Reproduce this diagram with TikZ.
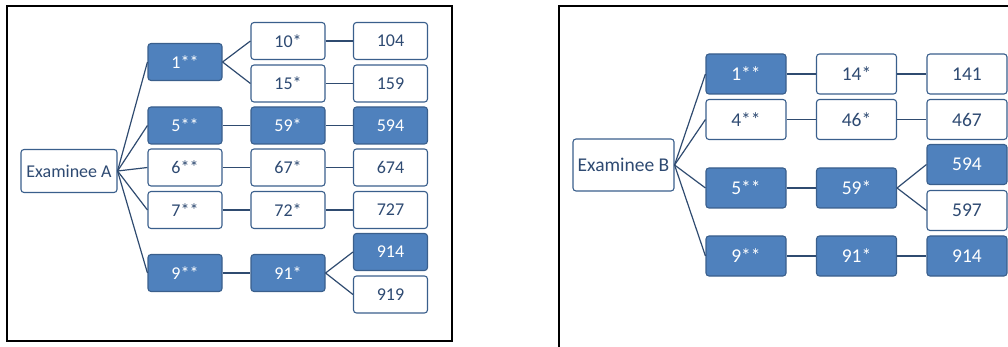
\documentclass[tikz,border=0pt]{standalone}
\usepackage{fontspec}
\setmainfont{Carlito}
\usepackage{xcolor}
\usetikzlibrary{positioning}
\definecolor{boxblue}{HTML}{4F81BD}
\definecolor{edgeblue}{HTML}{3A5F8C}
\definecolor{textblue}{HTML}{2E4A72}
\definecolor{lineblue}{HTML}{2F4B70}
\begin{document}
\begin{tikzpicture}[x=1pt, y=-1pt,
  every node/.style={font=\fontsize{18}{20}\selectfont},
  B/.style={rectangle, rounded corners=3pt, draw=edgeblue, line width=1.1pt,
    fill=white, text=textblue, minimum width=74pt, minimum height=37pt, inner sep=0pt},
  H/.style={B, fill=boxblue, text=white},
  BB/.style={B, minimum width=80pt, minimum height=40pt, font=\fontsize{19.5}{21}\selectfont},
  HB/.style={BB, fill=boxblue, text=white},
  L/.style={draw=lineblue, line width=1.2pt},
  frame/.style={draw=black, line width=1.6pt}]
  \useasboundingbox (0,0) rectangle (1008,347);
  % frames
  \draw[frame] (7,6) rectangle (452,341);
  \draw[frame] (559,347) -- (559,6) -- (1008,6);
  % --- Examinee A ---
  \node[B, minimum width=96pt, minimum height=43pt] (exa) at (69,171) {Examinee A};
  % first digit
  \node[H] (a1)  at (185,62)    {1**};
  \node[H] (a5)  at (185,125.5) {5**};
  \node[B] (a6)  at (185,167.5) {6**};
  \node[B] (a7)  at (185,210)   {7**};
  \node[H] (a9)  at (185,273)   {9**};
  % second digit
  \node[B] (a10) at (288,41)    {10*};
  \node[B] (a15) at (288,83.5)  {15*};
  \node[H] (a59) at (288,125.5) {59*};
  \node[B] (a67) at (288,167.5) {67*};
  \node[B] (a72) at (288,210)   {72*};
  \node[H] (a91) at (288,273)   {91*};
  % third digit
  \node[B] (a104) at (390.5,41)    {104};
  \node[B] (a159) at (390.5,83.5)  {159};
  \node[H] (a594) at (390.5,125.5) {594};
  \node[B] (a674) at (390.5,167.5) {674};
  \node[B] (a727) at (390.5,210)   {727};
  \node[H] (a914) at (390.5,252)   {914};
  \node[B] (a919) at (390.5,294.5) {919};
  % links A
  \draw[L] (exa.east) -- (a1.west);
  \draw[L] (exa.east) -- (a5.west);
  \draw[L] (exa.east) -- (a6.west);
  \draw[L] (exa.east) -- (a7.west);
  \draw[L] (exa.east) -- (a9.west);
  \draw[L] (a1.east) -- (a10.west);
  \draw[L] (a1.east) -- (a15.west);
  \draw[L] (a5) -- (a59);
  \draw[L] (a6) -- (a67);
  \draw[L] (a7) -- (a72);
  \draw[L] (a9) -- (a91);
  \draw[L] (a10) -- (a104);
  \draw[L] (a15) -- (a159);
  \draw[L] (a59) -- (a594);
  \draw[L] (a67) -- (a674);
  \draw[L] (a72) -- (a727);
  \draw[L] (a91.east) -- (a914.west);
  \draw[L] (a91.east) -- (a919.west);
  % --- Examinee B ---
  \node[BB, minimum width=101pt, minimum height=52pt] (exb) at (623.5,165) {Examinee B};
  % first digit
  \node[HB] (b1) at (746,74)    {1**};
  \node[BB] (b4) at (746,119.5) {4**};
  \node[HB] (b5) at (746,188)   {5**};
  \node[HB] (b9) at (746,256)   {9**};
  % second digit
  \node[BB] (b14) at (856.5,74)    {14*};
  \node[BB] (b46) at (856.5,119.5) {46*};
  \node[HB] (b59) at (856.5,188)   {59*};
  \node[HB] (b91) at (856.5,256)   {91*};
  % third digit
  \node[BB] (b141) at (967,74)    {141};
  \node[BB] (b467) at (967,119.5) {467};
  \node[HB] (b594) at (967,164.5) {594};
  \node[BB] (b597) at (967,210.5) {597};
  \node[HB] (b914) at (967,256)   {914};
  % links B
  \draw[L] (exb.east) -- (b1.west);
  \draw[L] (exb.east) -- (b4.west);
  \draw[L] (exb.east) -- (b5.west);
  \draw[L] (exb.east) -- (b9.west);
  \draw[L] (b1) -- (b14);
  \draw[L] (b4) -- (b46);
  \draw[L] (b5) -- (b59);
  \draw[L] (b9) -- (b91);
  \draw[L] (b14) -- (b141);
  \draw[L] (b46) -- (b467);
  \draw[L] (b59.east) -- (b594.west);
  \draw[L] (b59.east) -- (b597.west);
  \draw[L] (b91) -- (b914);
\end{tikzpicture}
\end{document}
